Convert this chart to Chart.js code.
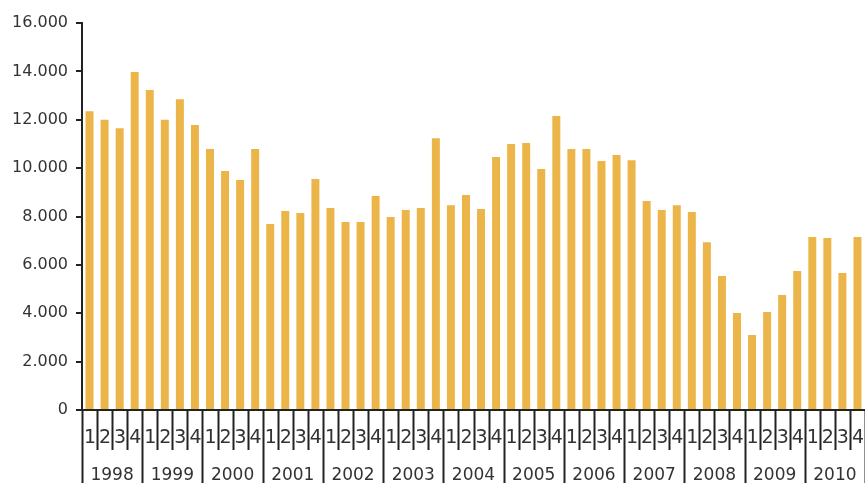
<!DOCTYPE html>
<html>
<head>
<meta charset="utf-8">
<script src="https://cdn.jsdelivr.net/npm/chart.js@4"></script>
<style>
  html, body { margin: 0; padding: 0; background: #fff; }
  #wrap { width: 865px; height: 483px; position: relative; }
</style>
</head>
<body>
<div id="wrap"><canvas id="chart"></canvas></div>
<script>
// Data
const years = ['1998', '1999', '2000', '2001', '2002', '2003', '2004', '2005', '2006', '2007', '2008', '2009', '2010'];
const quarters = ['1', '2', '3', '4'];
const values = [
    12350, 12000, 11650, 13970,   // 1998
    13230, 12000, 12850, 11780,   // 1999
    10790, 9880, 9510, 10790,     // 2000
    7690, 8230, 8140, 9550,       // 2001
    8350, 7770, 7770, 8850,       // 2002
    7980, 8270, 8350, 11240,      // 2003
    8470, 8890, 8310, 10460,      // 2004
    11000, 11040, 9960, 12150,    // 2005
    10790, 10790, 10290, 10540,   // 2006
    10330, 8640, 8270, 8470,      // 2007
    8190, 6940, 5540, 4010,       // 2008
    3100, 4050, 4750, 5750,       // 2009
    7150, 7110, 5660, 7150        // 2010
];
const yTicks = [0, 2000, 4000, 6000, 8000, 10000, 12000, 14000, 16000];

const labels = [];
years.forEach(y => quarters.forEach(q => labels.push(y + ' Q' + q)));

const ink = '#333333';
const lineCol = '#222222';
const fontFamily = '"DejaVu Sans", Verdana, sans-serif';

const fmt = v => String(v).replace(/\B(?=(\d{3})+(?!\d))/g, '.');

// Two-level category axis: quarter numbers, then years
const groupAxis = {
    id: 'groupAxis',
    afterDraw(chart) {
        const ctx = chart.ctx;
        const xs = chart.scales.x;
        const top = chart.chartArea.bottom;
        const n = labels.length;
        const step = xs.getPixelForValue(1) - xs.getPixelForValue(0);
        const edge = i => xs.getPixelForValue(i) - step / 2;

        ctx.save();
        ctx.strokeStyle = lineCol;
        ctx.lineWidth = 2;
        for (let i = 0; i <= n; i++) {
            const x = Math.round(edge(i)) + 0.5;
            ctx.beginPath();
            ctx.moveTo(x, top);
            ctx.lineTo(x, i % 4 === 0 ? chart.height : top + 40);
            ctx.stroke();
        }

        ctx.fillStyle = ink;
        ctx.textAlign = 'center';
        ctx.textBaseline = 'alphabetic';
        ctx.font = '19px ' + fontFamily;
        for (let i = 0; i < n; i++) {
            ctx.fillText(quarters[i % 4], xs.getPixelForValue(i) + 0.5, top + 33);
        }

        ctx.font = '17px ' + fontFamily;
        years.forEach((y, k) => {
            const cx = (edge(k * 4) + edge(k * 4 + 4)) / 2;
            ctx.fillText(y, cx, top + 70);
        });
        ctx.restore();
    }
};

new Chart(document.getElementById('chart'), {
    type: 'bar',
    data: {
        labels: labels,
        datasets: [{
            data: values,
            backgroundColor: '#ebb54a',
            borderWidth: 0,
            barPercentage: 0.53,
            categoryPercentage: 1
        }]
    },
    options: {
        responsive: true,
        maintainAspectRatio: false,
        animation: false,
        layout: { padding: { top: 23, right: 0, bottom: 0, left: 0 } },
        plugins: {
            legend: { display: false },
            tooltip: { enabled: false }
        },
        scales: {
            x: {
                ticks: { display: false },
                grid: { display: false },
                border: { display: true, color: lineCol, width: 2 },
                afterFit: s => { s.height = 73; }
            },
            y: {
                min: 0,
                max: 16000,
                afterBuildTicks: s => { s.ticks = yTicks.map(v => ({ value: v })); },
                ticks: {
                    color: ink,
                    padding: 8,
                    font: { family: fontFamily, size: 16 },
                    callback: v => fmt(v)
                },
                grid: { drawOnChartArea: false, drawTicks: true, tickLength: 6, color: lineCol, lineWidth: 2 },
                border: { display: true, color: lineCol, width: 2 },
                afterFit: s => { s.width = 82; }
            }
        }
    },
    plugins: [groupAxis]
});
</script>
</body>
</html>
